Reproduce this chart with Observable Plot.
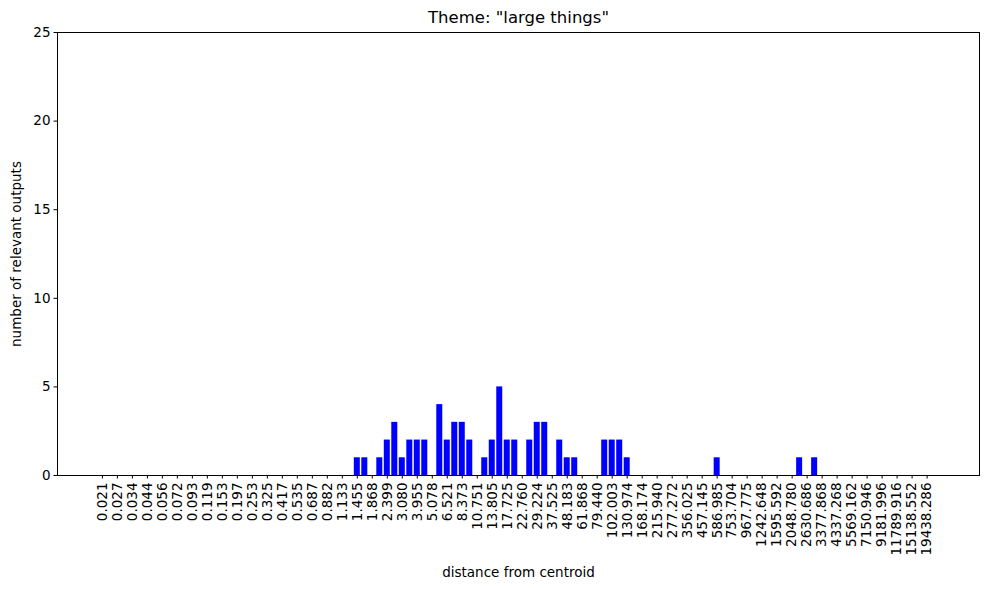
<!DOCTYPE html>
<html><head><meta charset="utf-8">
<script src="https://cdn.jsdelivr.net/npm/d3@7"></script>
<script src="https://cdn.jsdelivr.net/npm/@observablehq/plot@0.6"></script>
<style>body{margin:0;background:#fff;}</style>
</head><body><div id="chart"></div>
<script>
const title = 'Theme: "large things"';
const xLabel = "distance from centroid";
const yLabel = "number of relevant outputs";
const tickLabels = ["0.021","0.027","0.034","0.044","0.056","0.072","0.093","0.119","0.153","0.197","0.253","0.325","0.417","0.535","0.687","0.882","1.133","1.455","1.868","2.399","3.080","3.955","5.078","6.521","8.373","10.751","13.805","17.725","22.760","29.224","37.525","48.183","61.868","79.440","102.003","130.974","168.174","215.940","277.272","356.025","457.145","586.985","753.704","967.775","1242.648","1595.592","2048.780","2630.686","3377.868","4337.268","5569.162","7150.946","9181.996","11789.916","15138.552","19438.286"];
const counts = [
  0,0,0,0,0,0,0,0,0,0, 0,0,0,0,0,0,0,0,0,0, 0,0,0,0,0,0,0,0,0,0, 0,0,0,0,
  1,1,0,1,2,3,1,2,2,2,0,4,2,3,3,2,0,1,2,5,2,
  2,0,2,3,3,0,2,1,1,0,0,0,2,2,2,1,
  0,0,0,0,0,0,0,0,0,0,0,
  1,
  0,0,0,0,0,0,0,0,0,0,
  1,0,1,
  0,0,0,0,0,0,0,0,0,0,0,0,0,0,0,0
];
const yTicks = [0,5,10,15,20,25];
const data = counts.map((c, i) => ({i, c}));
const n = counts.length;
const pad = (n - 1 + 0.8) * 0.05;
const chart = Plot.plot({
  width: 989, height: 590,
  marginLeft: 57, marginRight: 10, marginTop: 32, marginBottom: 115,
  style: {fontFamily: "DejaVu Sans", fontSize: "13.5px", background: "white", color: "black"},
  x: {type: "linear", domain: [-0.4 - pad, n - 1 + 0.4 + pad]},
  y: {domain: [0, 25]},
  marks: [
    Plot.rect(data.filter(d => d.c > 0), {x1: d => d.i - 0.4, x2: d => d.i + 0.4, y1: 0, y2: "c", fill: "#0000ff"}),
    Plot.frame({stroke: "black", strokeWidth: 1}),
    Plot.axisX({ticks: tickLabels.map((_, k) => 2 * k), tickFormat: v => tickLabels[Math.round(v / 2)], tickRotate: -90, tickSize: 3.5, tickPadding: 3.5, label: null, fontSize: 13.5}),
    Plot.axisY({ticks: yTicks, tickSize: 3.5, tickPadding: 3.5, label: null, fontSize: 13.5}),
    Plot.text([title], {frameAnchor: "top", lineAnchor: "middle", textAnchor: "middle", text: d => d, dy: -15, fontSize: 16.5}),
    Plot.text([xLabel], {frameAnchor: "bottom", lineAnchor: "middle", textAnchor: "middle", text: d => d, dy: 97, fontSize: 13.5}),
    Plot.text([yLabel], {frameAnchor: "left", lineAnchor: "middle", textAnchor: "middle", text: d => d, dx: -41, rotate: -90, fontSize: 13.5})
  ]
});
document.getElementById("chart").appendChild(chart);
</script>
</body></html>
